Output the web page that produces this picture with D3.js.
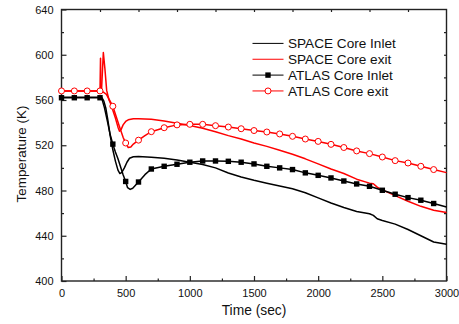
<!DOCTYPE html>
<html>
<head>
<meta charset="utf-8">
<script src="https://cdn.jsdelivr.net/npm/d3@7"></script>
<style>
  body { margin: 0; background: #fff; }
  svg text { font-family: Arial, 'Liberation Sans', sans-serif; fill: #111; }
</style>
</head>
<body>
<div id="chart"></div>
<script>
// SPACE code results (no markers)
const spaceInletT = [0, 100, 200, 300, 315, 330, 345, 360, 380, 400, 420, 440, 455, 470, 490, 510, 530, 560, 600, 700, 800, 900, 1000, 1100, 1200, 1300, 1400, 1500, 1600, 1700, 1800, 1900, 2000, 2100, 2200, 2300, 2400, 2430, 2460, 2500, 2600, 2700, 2800, 2900, 3000];
const spaceInletV = [562.5, 562.5, 562.5, 562.5, 562, 559, 553, 543, 528, 516, 506, 498, 495, 496, 500, 505, 508.5, 509.8, 510, 509.5, 508.5, 507, 505, 503, 500, 495.5, 492, 489, 486.5, 484, 481.5, 478, 473.5, 469, 465, 461.5, 459.5, 458, 455, 453.5, 450.3, 445.5, 440, 434.5, 432.5];

const spaceExitT = [0, 100, 200, 300, 312, 326, 338, 352, 370, 390, 400, 420, 440, 452, 465, 480, 500, 520, 560, 600, 700, 800, 900, 1000, 1100, 1200, 1300, 1400, 1500, 1600, 1700, 1800, 1900, 2000, 2100, 2200, 2300, 2400, 2430, 2460, 2500, 2600, 2700, 2800, 2900, 3000];
const spaceExitV = [568, 568, 568, 568, 569, 602, 588, 568.5, 560, 555, 551, 544, 536, 532.5, 534, 538, 541, 542.5, 543.5, 543.5, 543, 541.5, 539.5, 537.5, 535, 532, 528.5, 525.5, 522, 519, 515.5, 512, 508, 503.5, 499, 495, 490, 486.5, 486, 483, 480.5, 475.5, 470.5, 466, 462.5, 460.5];

// ATLAS test data (markers every 100 s)
const atlasInletT = [0, 100, 200, 300, 315, 335, 360, 380, 400, 420, 440, 460, 480, 500, 515, 535, 555, 580, 600, 650, 700, 800, 900, 1000, 1100, 1200, 1300, 1400, 1500, 1600, 1700, 1800, 1900, 2000, 2100, 2200, 2300, 2400, 2500, 2600, 2700, 2800, 2900, 3000];
const atlasInletV = [562, 562, 562, 562, 561, 553, 540, 529, 521, 514, 508, 501, 494, 488, 482.5, 481, 482, 485, 487.5, 494, 499, 501.4, 503.2, 505, 506.1, 506.1, 505.8, 505, 503.5, 501.4, 500, 498.5, 495.6, 493.4, 491.1, 488.4, 485.8, 483.7, 480.2, 476.7, 473.7, 471.4, 468.5, 465.5];

const atlasExitT = [0, 100, 200, 300, 304, 308, 320, 350, 400, 450, 480, 500, 520, 540, 560, 600, 650, 700, 800, 900, 1000, 1100, 1200, 1300, 1400, 1500, 1600, 1700, 1800, 1900, 2000, 2100, 2200, 2300, 2400, 2500, 2600, 2700, 2800, 2900, 3000];
const atlasExitV = [568, 568, 568, 568, 597, 568, 567.5, 565, 554.5, 537, 527, 522, 518, 518.5, 521, 524.5, 528.5, 532, 535.5, 538, 538.5, 538.5, 537.3, 536.1, 534.6, 533, 531.7, 530, 527.9, 525.5, 523.4, 520.8, 518, 515, 512.6, 509.6, 506.4, 504.3, 501.4, 498.5, 495.8];

const xTicks = [0, 500, 1000, 1500, 2000, 2500, 3000];
const yTicks = [400, 440, 480, 520, 560, 600, 640];
const legendLabels = ['SPACE Core Inlet', 'SPACE Core exit', 'ATLAS Core Inlet', 'ATLAS Core exit'];

const width = 459, height = 324;
const plotLeft = 61.5, plotRight = 446.5, plotTop = 9.5, plotBottom = 281;

const svg = d3.select('#chart')
    .append('svg')
    .attr('width', width)
    .attr('height', height);

const x = d3.scaleLinear().domain([0, 3000]).range([plotLeft, plotRight]);
const y = d3.scaleLinear().domain([400, 640]).range([plotBottom, plotTop]);

function zip(ts, vs) {
    return ts.map((t, i) => ({ t: t, v: vs[i] }));
}

const series = [
    { name: legendLabels[0], data: zip(spaceInletT, spaceInletV), color: '#000', marker: null },
    { name: legendLabels[1], data: zip(spaceExitT, spaceExitV), color: '#ff0000', marker: null },
    { name: legendLabels[2], data: zip(atlasInletT, atlasInletV), color: '#000', marker: 'square' },
    { name: legendLabels[3], data: zip(atlasExitT, atlasExitV), color: '#ff0000', marker: 'circle' }
];

// axes: ticks point into the plot
function axisStyle(g) {
    g.select('.domain').remove();
    g.selectAll('.tick line').attr('stroke', '#222').attr('stroke-width', 1.2);
    g.selectAll('.tick text').style('font-size', '11px');
}

svg.append('g')
    .attr('transform', `translate(0,${plotBottom})`)
    .call(d3.axisBottom(x).tickValues(xTicks).tickSize(-5).tickPadding(8).tickFormat(d3.format('d')))
    .call(axisStyle);
svg.append('g')
    .attr('transform', `translate(0,${plotBottom})`)
    .call(d3.axisBottom(x).tickValues(d3.range(250, 3000, 500)).tickSize(-2.5).tickFormat(''))
    .call(axisStyle);
svg.append('g')
    .attr('transform', `translate(${plotLeft},0)`)
    .call(d3.axisLeft(y).tickValues(yTicks).tickSize(-5).tickPadding(8))
    .call(axisStyle);
svg.append('g')
    .attr('transform', `translate(${plotLeft},0)`)
    .call(d3.axisLeft(y).tickValues(d3.range(420, 640, 40)).tickSize(-2.5).tickFormat(''))
    .call(axisStyle);
svg.append('g')
    .attr('transform', `translate(0,${plotTop})`)
    .call(d3.axisTop(x).tickValues(d3.range(300, 3000, 300)).tickSize(-2.5).tickFormat(''))
    .call(axisStyle);
svg.append('g')
    .attr('transform', `translate(${plotRight},0)`)
    .call(d3.axisRight(y).tickValues(d3.range(420, 640, 20)).tickSize(-2.5).tickFormat(''))
    .call(axisStyle);

svg.append('rect')
    .attr('x', plotLeft)
    .attr('y', plotTop)
    .attr('width', plotRight - plotLeft)
    .attr('height', plotBottom - plotTop)
    .style('fill', 'none')
    .style('stroke', '#222')
    .style('stroke-width', 1.4);

const line = d3.line()
    .x(d => x(d.t))
    .y(d => y(d.v));

const plot = svg.append('g');

series.forEach(s => {
    plot.append('path')
        .attr('d', line(s.data))
        .style('fill', 'none')
        .style('stroke', s.color)
        .style('stroke-width', 1.5)
        .style('stroke-linejoin', 'round');
});

function drawMarker(g, type, cx, cy, color) {
    if (type === 'square') {
        g.append('rect')
            .attr('x', cx - 2.7)
            .attr('y', cy - 2.7)
            .attr('width', 5.4)
            .attr('height', 5.4)
            .style('fill', color);
    } else if (type === 'circle') {
        g.append('circle')
            .attr('cx', cx)
            .attr('cy', cy)
            .attr('r', 3)
            .style('fill', '#fff')
            .style('stroke', color)
            .style('stroke-width', 1);
    }
}

series.filter(s => s.marker).forEach(s => {
    s.data.filter(d => d.t % 100 === 0 && d.t < 3000).forEach(d => {
        drawMarker(plot, s.marker, x(d.t), y(d.v), s.color);
    });
});

// legend
const legend = svg.append('g');
series.forEach((s, i) => {
    const ly = 43.4 + i * 15.85;
    legend.append('line')
        .attr('x1', 252.5).attr('x2', 283.5)
        .attr('y1', ly).attr('y2', ly)
        .style('stroke', s.color)
        .style('stroke-width', 1);
    drawMarker(legend, s.marker, 268, ly, s.color);
    legend.append('text')
        .attr('x', 288)
        .attr('y', ly + 4.6)
        .style('font-size', '13.6px')
        .text(s.name);
});

svg.append('text')
    .attr('x', (plotLeft + plotRight) / 2)
    .attr('y', 315)
    .attr('text-anchor', 'middle')
    .style('font-size', '13.8px')
    .text('Time (sec)');

svg.append('text')
    .attr('transform', 'translate(26,154) rotate(-90)')
    .attr('text-anchor', 'middle')
    .style('font-size', '13.4px')
    .text('Temperature (K)');
</script>
</body>
</html>
